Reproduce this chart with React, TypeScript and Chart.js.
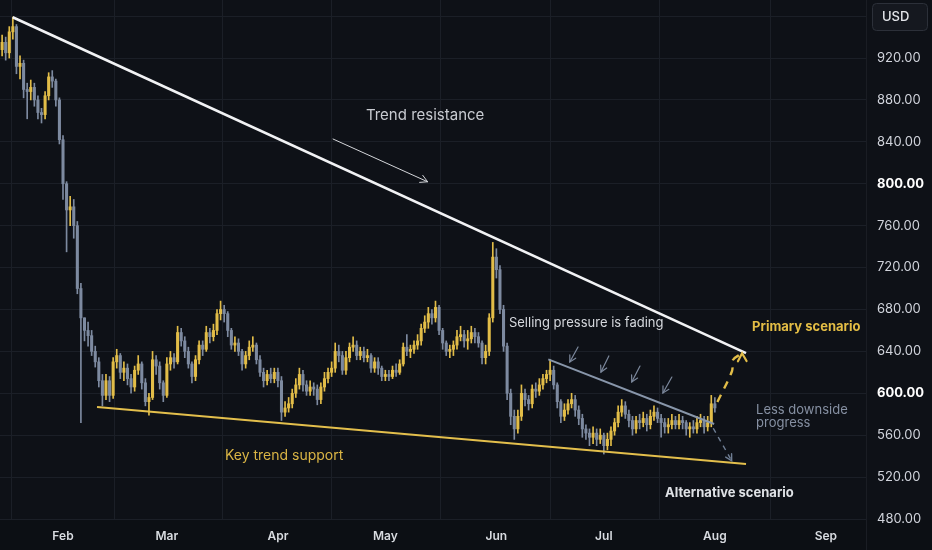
import { useEffect, useRef } from 'react'
import { Chart, registerables } from 'chart.js'

Chart.register(...registerables)

// day index = days since Jan 1 (2024)
const firstDay = 14
const firstOpen = 928

const closes = [
  935, 925, 945, 950, 912, 915, 890, 888, 892, 880,
  868, 866, 884, 902, 898, 880, 842, 800, 775, 778,
  760, 700, 672, 660, 655, 640, 630, 612, 598, 612,
  598, 630, 636, 620, 624, 614, 606, 622, 628, 610,
  592, 596, 632, 626, 610, 598, 628, 634, 630, 658,
  650, 640, 628, 616, 632, 646, 642, 658, 654, 660,
  676, 680, 676, 660, 646, 648, 640, 628, 636, 644,
  646, 632, 620, 612, 618, 614, 620, 612, 582, 586,
  590, 600, 608, 618, 608, 602, 606, 604, 594, 606,
  614, 620, 624, 640, 636, 622, 634, 644, 646, 636,
  640, 634, 636, 624, 630, 624, 616, 618, 616, 622,
  620, 628, 644, 640, 642, 646, 650, 662, 668, 676,
  672, 682, 660, 648, 640, 642, 646, 654, 656, 650,
  652, 658, 654, 648, 634, 640, 672, 730, 718, 680,
  645, 600, 578, 566, 578, 600, 594, 590, 604, 602,
  608, 614, 618, 622, 608, 592, 578, 584, 590, 594,
  584, 576, 566, 562, 558, 562, 556, 560, 550, 556,
  564, 572, 582, 588, 580, 574, 566, 574, 572, 576,
  570, 578, 582, 576, 572, 568, 570, 574, 570, 574,
  572, 566, 568, 566, 572, 574, 568, 572, 590, 586,
]

const highs = [
  942, 940, 950, 959, 952, 922, 918, 896, 899, 896,
  884, 872, 888, 906, 908, 900, 882, 846, 802, 788,
  785, 764, 705, 672, 668, 660, 645, 634, 618, 618,
  616, 634, 642, 638, 630, 628, 618, 626, 636, 630,
  614, 600, 640, 636, 630, 612, 634, 640, 638, 664,
  662, 654, 644, 630, 636, 650, 650, 664, 662, 666,
  680, 688, 684, 678, 662, 654, 652, 642, 640, 650,
  654, 648, 636, 624, 622, 624, 624, 624, 616, 592,
  596, 604, 614, 624, 622, 612, 612, 610, 608, 610,
  620, 624, 630, 648, 646, 640, 640, 648, 654, 650,
  644, 644, 642, 638, 634, 634, 626, 622, 622, 626,
  628, 632, 648, 656, 646, 650, 656, 666, 674, 682,
  680, 688, 684, 662, 650, 646, 650, 660, 664, 660,
  660, 664, 662, 658, 650, 646, 676, 744, 738, 722,
  684, 648, 604, 584, 584, 608, 604, 598, 608, 610,
  614, 618, 622, 632, 626, 610, 594, 590, 594, 600,
  598, 588, 580, 570, 566, 568, 566, 566, 562, 562,
  568, 576, 588, 594, 592, 584, 578, 578, 580, 582,
  580, 584, 588, 586, 580, 576, 576, 580, 578, 580,
  578, 574, 572, 574, 578, 580, 578, 578, 598, 596,
]

const lows = [
  922, 918, 920, 938, 905, 900, 882, 862, 880, 874,
  862, 858, 862, 880, 892, 874, 838, 785, 735, 760,
  748, 695, 572, 650, 645, 636, 625, 606, 588, 594,
  592, 595, 624, 614, 612, 608, 600, 602, 618, 604,
  588, 579, 594, 618, 604, 592, 596, 622, 624, 628,
  645, 634, 624, 610, 612, 628, 636, 640, 648, 650,
  656, 670, 668, 654, 642, 640, 636, 622, 624, 632,
  640, 628, 616, 606, 608, 610, 610, 606, 574, 578,
  582, 586, 596, 604, 602, 598, 598, 598, 589, 590,
  602, 610, 616, 620, 630, 618, 618, 630, 640, 632,
  632, 630, 630, 620, 620, 618, 612, 612, 612, 614,
  616, 618, 626, 636, 634, 638, 642, 646, 658, 662,
  666, 668, 656, 642, 636, 634, 636, 642, 650, 644,
  642, 648, 648, 644, 628, 628, 636, 668, 710, 676,
  640, 594, 570, 556, 562, 574, 588, 584, 586, 596,
  598, 604, 610, 612, 604, 586, 572, 574, 580, 586,
  578, 570, 558, 556, 550, 552, 550, 552, 542, 546,
  550, 560, 568, 578, 576, 568, 560, 562, 566, 568,
  564, 566, 574, 572, 558, 562, 562, 566, 566, 566,
  566, 560, 558, 562, 562, 568, 562, 564, 568, 582,
]

const monthDays = [31, 60, 91, 121, 152, 182, 213, 244]
const monthLabels = ['Feb', 'Mar', 'Apr', 'May', 'Jun', 'Jul', 'Aug', 'Sep']
const priceTicks = [480, 520, 560, 600, 640, 680, 720, 760, 800, 840, 880, 920, 960]
const boldTicks = [600, 800]

// drawn lines, [day, price]
const resistanceLine = [[16.96, 958.9], [221.7, 638.4]]
const supportLine = [[40.5, 586.9], [221.7, 532.5]]
const fadingLine = [[166.5, 632.4], [212.8, 570.7]]
const primaryPath = [[213.7, 591.7], [217.8, 621.3], [218.05, 631.8], [220.6, 638.2]]
const alternativePath = [[212.55, 566.6], [217.7, 535.6]]

// small arrows [fromDay, fromPrice, toDay, toPrice]
const pressureArrows = [
  [174.8, 644.2, 172.5, 629.9],
  [183.4, 635.6, 181.2, 620.3],
  [192.1, 626.0, 189.8, 610.8],
  [201.0, 615.5, 198.5, 600.3],
]
const resistanceArrow = [106.4, 842.7, 132.8, 801.9]

const UP = '#e2bd48'
const DOWN = '#7d8aa0'
const BG = '#0e1117'
const GRID = '#1b1f27'

const notes = [
  { text: 'Trend resistance', day: 132.1, price: 865.6, align: 'center', color: '#c8cbd1', font: '400 15px Inter' },
  { text: 'Selling pressure is fading', day: 155.5, price: 667.1, align: 'left', color: '#d6d9de', font: '400 13px Inter' },
  { text: 'Primary scenario', day: 223.4, price: 663.3, align: 'left', color: '#e3bd45', font: '700 13px Inter' },
  { text: 'Less downside', day: 224.5, price: 584.0, align: 'left', color: '#8690a2', font: '400 13px Inter' },
  { text: 'progress', day: 224.5, price: 571.6, align: 'left', color: '#8690a2', font: '400 13px Inter' },
  { text: 'Key trend support', day: 76.2, price: 540.1, align: 'left', color: '#dab545', font: '400 14px Inter' },
  { text: 'Alternative scenario', day: 199.1, price: 504.8, align: 'left', color: '#dfe2e6', font: '700 13px Inter' },
]

function arrowHead(ctx: CanvasRenderingContext2D, x0: number, y0: number, x1: number, y1: number, size: number) {
  const a = Math.atan2(y1 - y0, x1 - x0)
  ctx.beginPath()
  ctx.moveTo(x1 - size * Math.cos(a - 0.5), y1 - size * Math.sin(a - 0.5))
  ctx.lineTo(x1, y1)
  ctx.lineTo(x1 - size * Math.cos(a + 0.5), y1 - size * Math.sin(a + 0.5))
  ctx.stroke()
}

const overlay = {
  id: 'overlay',
  beforeDraw(chart: any) {
    const { ctx, width, height, chartArea } = chart
    ctx.save()
    ctx.fillStyle = BG
    ctx.fillRect(0, 0, width, height)
    ctx.fillStyle = '#0c0f14'
    ctx.fillRect(0, chartArea.bottom, width, height - chartArea.bottom)
    ctx.restore()
  },
  afterDatasetsDraw(chart: any) {
    const { ctx } = chart
    const sx = chart.scales.x
    const sy = chart.scales.y
    const X = (d: number) => sx.getPixelForValue(d)
    const Y = (p: number) => sy.getPixelForValue(p)
    ctx.save()
    ctx.lineCap = 'round'

    // arrow under "Trend resistance"
    const [a0, b0, a1, b1] = resistanceArrow
    ctx.strokeStyle = '#d4d6da'
    ctx.lineWidth = 1
    ctx.beginPath()
    ctx.moveTo(X(a0), Y(b0))
    ctx.lineTo(X(a1), Y(b1))
    ctx.stroke()
    arrowHead(ctx, X(a0), Y(b0), X(a1), Y(b1), 8)

    // small pressure arrows
    ctx.strokeStyle = '#7c889c'
    ctx.lineWidth = 1.2
    pressureArrows.forEach(([d0, p0, d1, p1]) => {
      ctx.beginPath()
      ctx.moveTo(X(d0), Y(p0))
      ctx.lineTo(X(d1), Y(p1))
      ctx.stroke()
      arrowHead(ctx, X(d0), Y(p0), X(d1), Y(p1), 7)
    })

    // scenario arrow heads
    const pe = primaryPath[primaryPath.length - 1]
    ctx.strokeStyle = UP
    ctx.lineWidth = 2.2
    arrowHead(ctx, X(pe[0] + 0.1), Y(pe[1] - 16), X(pe[0]), Y(pe[1]), 9)
    const ae = alternativePath[alternativePath.length - 1]
    const as = alternativePath[0]
    ctx.strokeStyle = '#6f7e94'
    ctx.lineWidth = 1.4
    arrowHead(ctx, X(as[0]), Y(as[1]), X(ae[0]), Y(ae[1]), 7)

    // notes
    ctx.textBaseline = 'middle'
    notes.forEach((n) => {
      ctx.font = n.font
      ctx.fillStyle = n.color
      ctx.textAlign = n.align
      ctx.fillText(n.text, X(n.day), Y(n.price))
    })
    ctx.restore()
  },
  afterDraw(chart: any) {
    const { ctx, chartArea } = chart
    ctx.save()
    // axis separator
    ctx.strokeStyle = '#1a1d24'
    ctx.lineWidth = 1
    ctx.beginPath()
    ctx.moveTo(chartArea.right + 0.5, 0)
    ctx.lineTo(chartArea.right + 0.5, chart.height)
    ctx.stroke()
    // currency box
    ctx.fillStyle = '#15181f'
    ctx.strokeStyle = '#2c3039'
    ctx.beginPath()
    ctx.roundRect(872.5, 3.5, 55, 27, 4)
    ctx.fill()
    ctx.stroke()
    ctx.fillStyle = '#e4e6ea'
    ctx.font = '500 13px Inter'
    ctx.textAlign = 'left'
    ctx.textBaseline = 'middle'
    ctx.fillText('USD', 882, 17.5)
    ctx.restore()
  },
}

export default function App() {
  const canvasRef = useRef<HTMLCanvasElement>(null)
  const chartRef = useRef<Chart | null>(null)

  useEffect(() => {
    if (!canvasRef.current) return
    if (chartRef.current) chartRef.current.destroy()

    const opens = closes.map((c, i) => (i === 0 ? firstOpen : closes[i - 1]))
    const days = closes.map((_, i) => firstDay + i)
    const colors = closes.map((c, i) => (c >= opens[i] ? UP : DOWN))
    const toXY = (pts: number[][]) => pts.map(([x, y]) => ({ x, y }))

    const lineStyle = { type: 'line' as const, pointRadius: 0, fill: false, order: 1 }

    chartRef.current = new Chart(canvasRef.current, {
      type: 'bar',
      data: {
        datasets: [
          {
            type: 'bar',
            label: 'wicks',
            data: days.map((d, i) => ({ x: d, y: [lows[i], highs[i]] })) as any,
            backgroundColor: colors,
            barThickness: 1,
            grouped: false,
            order: 10,
          },
          {
            type: 'bar',
            label: 'bodies',
            data: days.map((d, i) => ({
              x: d,
              y: [Math.min(opens[i], closes[i]), Math.max(opens[i], closes[i])],
            })) as any,
            backgroundColor: colors,
            barThickness: 2.4,
            minBarLength: 1,
            grouped: false,
            order: 9,
          },
          { ...lineStyle, label: 'resistance', data: toXY(resistanceLine), borderColor: '#f1f2f4', borderWidth: 2.6 },
          { ...lineStyle, label: 'support', data: toXY(supportLine), borderColor: '#e3bf4c', borderWidth: 2.2 },
          { ...lineStyle, label: 'fading', data: toXY(fadingLine), borderColor: '#8896aa', borderWidth: 2 },
          {
            ...lineStyle,
            label: 'primary',
            data: toXY(primaryPath),
            borderColor: UP,
            borderWidth: 2.4,
            borderDash: [8, 7],
            tension: 0.35,
          },
          {
            ...lineStyle,
            label: 'alternative',
            data: toXY(alternativePath),
            borderColor: '#6f7e94',
            borderWidth: 1.4,
            borderDash: [5, 5],
          },
        ] as any,
      },
      options: {
        animation: false,
        responsive: true,
        maintainAspectRatio: false,
        layout: { padding: 0 },
        plugins: { legend: { display: false }, tooltip: { enabled: false } },
        scales: {
          x: {
            type: 'linear',
            min: 13.41,
            max: 255.2,
            offset: false,
            grid: { color: GRID, drawTicks: false },
            border: { display: false },
            afterBuildTicks: (scale: any) => {
              scale.ticks = monthDays.map((v) => ({ value: v }))
            },
            afterFit: (scale: any) => {
              scale.height = 30
              scale.paddingLeft = 0
              scale.paddingRight = 0
            },
            ticks: {
              autoSkip: false,
              maxRotation: 0,
              padding: 9,
              color: '#d8dbe0',
              font: { family: 'Inter', size: 12, weight: 600 },
              callback: (_v: any, i: number) => monthLabels[i],
            },
          },
          y: {
            type: 'linear',
            position: 'right',
            min: 479.05,
            max: 975.4,
            grid: { color: GRID, drawTicks: false },
            border: { display: false },
            afterBuildTicks: (scale: any) => {
              scale.ticks = priceTicks.map((v) => ({ value: v }))
            },
            afterFit: (scale: any) => {
              scale.width = 66
              scale.paddingTop = 0
              scale.paddingBottom = 0
            },
            ticks: {
              padding: 11,
              crossAlign: 'near',
              color: (c: any) => (boldTicks.includes(c.tick?.value) ? '#ffffff' : '#d1d4dc'),
              font: (c: any) => ({
                family: 'Inter',
                size: 13,
                weight: boldTicks.includes(c.tick?.value) ? 700 : 400,
              }),
              callback: (v: any) => Number(v).toFixed(2),
            },
          },
        },
      },
      plugins: [overlay],
    } as any)

    return () => {
      if (chartRef.current) {
        chartRef.current.destroy()
        chartRef.current = null
      }
    }
  }, [])

  return (
    <div style={{ position: 'fixed', left: 0, top: 0, width: 932, height: 550, background: BG }}>
      <canvas ref={canvasRef} />
    </div>
  )
}
